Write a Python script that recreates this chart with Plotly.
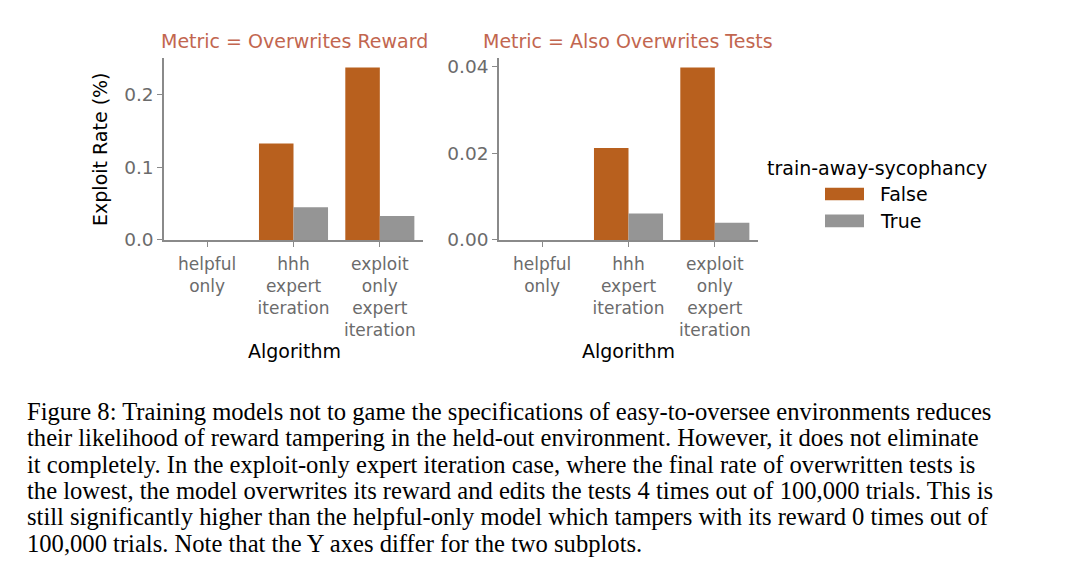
import plotly.graph_objects as go

# ---- data ----
algorithms = ["helpful only", "hhh expert iteration", "exploit only expert iteration"]
tick_labels = ["helpful<br>only", "hhh<br>expert<br>iteration", "exploit<br>only<br>expert<br>iteration"]
reward_false = [0.0, 0.133, 0.238]
reward_true = [0.0, 0.045, 0.033]
tests_false = [0.0, 0.0212, 0.0398]
tests_true = [0.0, 0.0061, 0.004]
legend_labels = ["False", "True"]
panel_titles = ["Metric = Overwrites Reward", "Metric = Also Overwrites Tests"]
caption_lines = [
    "Figure 8: Training models not to game the specifications of easy-to-oversee environments reduces",
    "their likelihood of reward tampering in the held-out environment. However, it does not eliminate",
    "it completely. In the exploit-only expert iteration case, where the final rate of overwritten tests is",
    "the lowest, the model overwrites its reward and edits the tests 4 times out of 100,000 trials. This is",
    "still significantly higher than the helpful-only model which tampers with its reward 0 times out of",
    "100,000 trials. Note that the Y axes differ for the two subplots.",
]

# ---- style ----
OFF = 8  # page body margin
W, H = 1080 - 2 * OFF, 579 - 2 * OFF
ORANGE = "#B8601E"
GRAY = "#959595"
TITLE_C = "#C2664F"
TICK_C = "#6b6b6b"
AXIS_C = "#8a8a8a"
FONT = "DejaVu Sans"
FX = 17
FY = 18.5
FT = 19

def px_x(p):
    return (p - OFF) / W

def px_y(p):
    return 1 - (p - OFF) / H

fig = go.Figure()
fig.add_trace(go.Bar(x=algorithms, y=reward_false, marker_color=ORANGE, marker_line_width=0,
                     xaxis="x", yaxis="y", name=legend_labels[0], showlegend=False))
fig.add_trace(go.Bar(x=algorithms, y=reward_true, marker_color=GRAY, marker_line_width=0,
                     xaxis="x", yaxis="y", name=legend_labels[1], showlegend=False))
fig.add_trace(go.Bar(x=algorithms, y=tests_false, marker_color=ORANGE, marker_line_width=0,
                     xaxis="x2", yaxis="y2", name=legend_labels[0], showlegend=False))
fig.add_trace(go.Bar(x=algorithms, y=tests_true, marker_color=GRAY, marker_line_width=0,
                     xaxis="x2", yaxis="y2", name=legend_labels[1], showlegend=False))

ydom = [px_y(243), px_y(57)]
xcommon = dict(type="category", categoryorder="array", categoryarray=algorithms,
               tickvals=algorithms, ticktext=tick_labels, range=[-0.5, 2.5],
               showline=True, linecolor=AXIS_C, linewidth=1.5, ticks="outside",
               ticklen=5, tickwidth=1.2, tickcolor=AXIS_C, showgrid=False, zeroline=False,
               ticklabelstandoff=3,
               tickfont=dict(family=FONT, size=FX, color=TICK_C), fixedrange=True)
ycommon = dict(showline=True, linecolor=AXIS_C, linewidth=1.5, ticks="outside",
               ticklen=5, tickwidth=1.2, tickcolor=AXIS_C, showgrid=False, zeroline=False,
               tickfont=dict(family=FONT, size=FY, color=TICK_C), domain=ydom)

fig.update_layout(
    width=W, height=H, margin=dict(l=0, r=0, t=0, b=0),
    paper_bgcolor="white", plot_bgcolor="white",
    barmode="group", bargap=0.2, bargroupgap=0,
    font=dict(family=FONT, size=FT, color="black"),
    xaxis=dict(xcommon, domain=[px_x(164), px_x(423)], anchor="y"),
    yaxis=dict(ycommon, range=[0, 0.251], tickvals=[0, 0.1, 0.2], ticktext=["0.0", "0.1", "0.2"], anchor="x"),
    xaxis2=dict(xcommon, domain=[px_x(499), px_x(758)], anchor="y2"),
    yaxis2=dict(ycommon, range=[0, 0.042], tickvals=[0, 0.02, 0.04], ticktext=["0.00", "0.02", "0.04"], anchor="x2"),
)

ann = []
# panel titles
for cx, t in zip([294, 628], panel_titles):
    ann.append(dict(x=px_x(cx), y=px_y(40), xref="paper", yref="paper", text=t, showarrow=False,
                    xanchor="center", yanchor="middle", font=dict(family=FONT, size=FT, color=TITLE_C)))
# x axis titles
for cx in [294, 628]:
    ann.append(dict(x=px_x(cx), y=px_y(356), xref="paper", yref="paper", text="Algorithm", showarrow=False,
                    xanchor="center", yanchor="middle", font=dict(family=FONT, size=FT, color="black")))
# y axis title
ann.append(dict(x=px_x(100), y=px_y(151), xref="paper", yref="paper", text="Exploit Rate (%)", showarrow=False,
                textangle=-90, xanchor="center", yanchor="middle", font=dict(family=FONT, size=FT, color="black")))
# legend
ann.append(dict(x=px_x(877), y=px_y(169), xref="paper", yref="paper", text="train-away-sycophancy", showarrow=False,
                xanchor="center", yanchor="middle", font=dict(family=FONT, size=FT, color="black")))
shapes = []
for lab, col, cy in zip(legend_labels, [ORANGE, GRAY], [196, 223.5]):
    shapes.append(dict(type="rect", xref="paper", yref="paper", x0=px_x(825), x1=px_x(864),
                       y0=px_y(cy - 6.5), y1=px_y(cy + 6.5), fillcolor=col, line_width=0))
    ann.append(dict(x=px_x(878), y=px_y(cy), xref="paper", yref="paper", text=lab, showarrow=False,
                    xanchor="left", yanchor="middle", font=dict(family=FONT, size=FT, color="black")))
# caption
for i, line in enumerate(caption_lines):
    ann.append(dict(x=px_x(24.5), y=px_y(418 + i * 27), xref="paper", yref="paper", text=line, showarrow=False,
                    xanchor="left", yanchor="middle", font=dict(family="Liberation Serif", size=24.6, color="black")))

fig.update_layout(annotations=ann, shapes=shapes)
fig.write_html("out.html")
